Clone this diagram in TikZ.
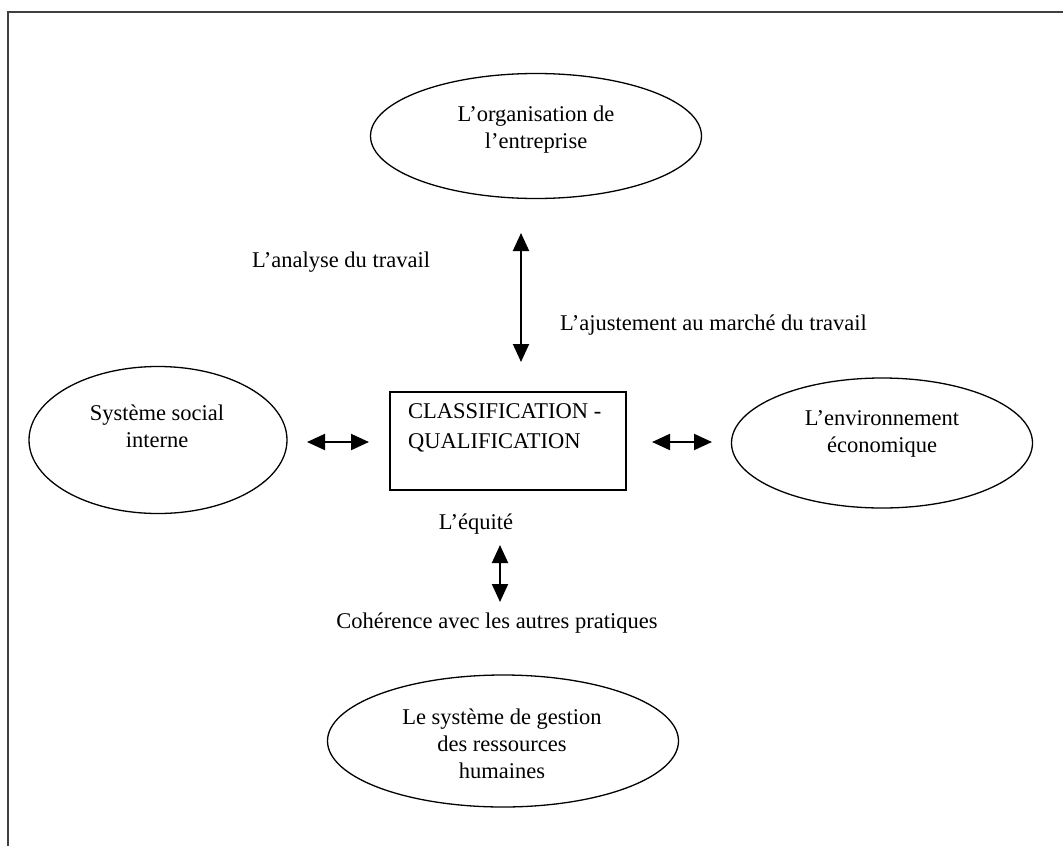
\documentclass[tikz,border=0pt]{standalone}
\usepackage{fontspec}
\setmainfont{Liberation Serif}
\usetikzlibrary{shapes.geometric,arrows.meta}
\begin{document}
\begin{tikzpicture}[x=1pt,y=-1pt,
  oval/.style={draw, ellipse, line width=1.3pt, inner sep=0pt},
  lbl/.style={font=\fontsize{22.5}{27}\selectfont, align=center, inner sep=0pt},
  dbl/.style={{Triangle[width=16pt,length=18pt]}-{Triangle[width=16pt,length=18pt]}, line width=2pt}]
\useasboundingbox (0,0) rectangle (1063,846);
\clip (0,0) rectangle (1063,846);

% outer frame
\draw[line width=2pt, black!75] (8,880) -- (8,12) -- (1090,12);

% surrounding systems
\node[oval, minimum width=331pt, minimum height=125pt] (org) at (536,136) {};
\node[lbl] (orgtxt) at (536,130) {L’organisation de\\l’entreprise};

\node[oval, minimum width=258pt, minimum height=147pt] (social) at (158,440) {};
\node[lbl] (socialtxt) at (157,426) {Système social\\interne};

\node[oval, minimum width=301pt, minimum height=130pt] (env) at (882,443) {};
\node[lbl] (envtxt) at (882,434) {L’environnement\\économique};

\node[oval, minimum width=351pt, minimum height=132pt] (grh) at (503,741) {};
\node[lbl] (grhtxt) at (502,744) {Le système de gestion\\des ressources\\humaines};

% central box
\node[draw, line width=1.3pt, minimum width=236pt, minimum height=98pt, inner sep=0pt] (cq) at (508,441) {};
\node[lbl, anchor=west, align=left, font=\fontsize{22.5}{30}\selectfont] (cqtxt) at (408,428) {CLASSIFICATION -\\QUALIFICATION};

% double arrows
\coordinate (v1a) at (521,233);
\coordinate (v1b) at (521,362);
\draw[dbl] (v1a) -- (v1b);
\coordinate (h1a) at (307,442);
\coordinate (h1b) at (369,442);
\draw[dbl] (h1a) -- (h1b);
\coordinate (h2a) at (652,442);
\coordinate (h2b) at (712,442);
\draw[dbl] (h2a) -- (h2b);
\coordinate (v2a) at (500,545);
\coordinate (v2b) at (500,602);
\draw[dbl] (v2a) -- (v2b);

% labels
\node[lbl, anchor=west] (analyse) at (252,262) {L’analyse du travail};
\node[lbl, anchor=west] (ajust) at (560,325) {L’ajustement au marché du travail};
\node[lbl] (equite) at (476,524) {L’équité};
\node[lbl] (coh) at (497,623) {Cohérence avec les autres pratiques};
\end{tikzpicture}
\end{document}
